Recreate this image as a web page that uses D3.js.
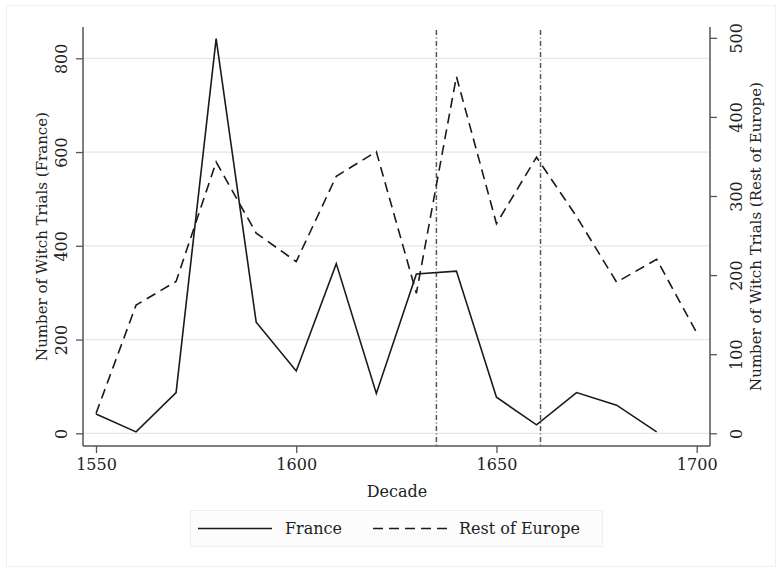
<!DOCTYPE html>
<html>
<head>
<meta charset="utf-8">
<script src="https://cdn.jsdelivr.net/npm/d3@7"></script>
<style>
  html, body { margin: 0; padding: 0; background: #fff; }
  svg { display: block; }
  text { font-family: "DejaVu Serif", "Liberation Serif", serif; fill: #222; }
</style>
</head>
<body>
<svg id="chart" width="781" height="570"></svg>
<script>
// ---- Data ----
const franceYears = [1550, 1560, 1570, 1580, 1590, 1600, 1610, 1620, 1630, 1640, 1650, 1660, 1670, 1680, 1690];
const franceValues = [41, 3, 87, 842, 237, 133, 362, 85, 340, 346, 77, 18, 87, 60, 3];
const europeYears = [1550, 1560, 1570, 1580, 1590, 1600, 1610, 1620, 1630, 1640, 1650, 1660, 1670, 1680, 1690, 1700];
const europeValues = [25, 162, 192, 343, 253, 217, 325, 356, 177, 451, 265, 349, 274, 191, 220, 127];
const xTicks = [1550, 1600, 1650, 1700];
const leftTicks = [0, 200, 400, 600, 800];
const rightTicks = [0, 100, 200, 300, 400, 500];
const refLines = [1635, 1661];
const legendLabels = ["France", "Rest of Europe"];

// ---- Layout ----
const svg = d3.select("#chart");
const plotLeft = 83, plotRight = 710, plotTop = 27, plotBottom = 446;

const x = d3.scaleLinear().domain([1550, 1700]).range([96, 696.7]);
const yL = d3.scaleLinear().domain([0, 800]).range([433.3, 58.3]);
const yR = d3.scaleLinear().domain([0, 500]).range([433.3, 37.8]);

// outer faint frame
svg.append("rect").attr("x", 6.5).attr("y", 5.5).attr("width", 769).attr("height", 561)
  .attr("fill", "#fff").attr("stroke", "#f0f0f0").attr("stroke-width", 1);

// gridlines (left axis)
svg.append("g").selectAll("line").data(leftTicks).join("line")
  .attr("x1", plotLeft).attr("x2", plotRight)
  .attr("y1", d => yL(d)).attr("y2", d => yL(d))
  .attr("stroke", "#e6e6e6").attr("stroke-width", 1.2);

// reference vertical lines
svg.append("g").selectAll("line").data(refLines).join("line")
  .attr("x1", d => x(d)).attr("x2", d => x(d))
  .attr("y1", 30).attr("y2", plotBottom)
  .attr("stroke", "#555").attr("stroke-width", 1.5)
  .attr("stroke-dasharray", "5,2.5,1,2.5");

// axes
const axisColor = "#555";
const gx = svg.append("g").attr("transform", `translate(0,${plotBottom})`)
  .call(d3.axisBottom(x).tickValues(xTicks).tickSize(7).tickPadding(6).tickFormat(d3.format("d")));
const gl = svg.append("g").attr("transform", `translate(${plotLeft},0)`)
  .call(d3.axisLeft(yL).tickValues(leftTicks).tickSize(7).tickFormat(d3.format("d")));
const gr = svg.append("g").attr("transform", `translate(${plotRight},0)`)
  .call(d3.axisRight(yR).tickValues(rightTicks).tickSize(7).tickFormat(d3.format("d")));

[gx, gl, gr].forEach(g => {
  g.select(".domain").remove();
  g.selectAll(".tick line").attr("stroke", axisColor).attr("stroke-width", 1.3);
  g.selectAll(".tick text").attr("font-family", "DejaVu Serif, serif").attr("font-size", 16).attr("fill", "#222");
});
gx.selectAll(".tick text").attr("dy", "0.71em");
gl.selectAll(".tick text")
  .attr("x", null).attr("dy", null)
  .attr("text-anchor", "middle")
  .attr("transform", "translate(-16,0) rotate(-90)");
gr.selectAll(".tick text")
  .attr("x", null).attr("dy", null)
  .attr("text-anchor", "middle")
  .attr("transform", "translate(32,0) rotate(-90)");

// axis lines
svg.append("line").attr("x1", plotLeft).attr("x2", plotRight).attr("y1", plotBottom).attr("y2", plotBottom)
  .attr("stroke", axisColor).attr("stroke-width", 1.5);
svg.append("line").attr("x1", plotLeft).attr("x2", plotLeft).attr("y1", plotTop).attr("y2", plotBottom)
  .attr("stroke", axisColor).attr("stroke-width", 1.5);
svg.append("line").attr("x1", plotRight).attr("x2", plotRight).attr("y1", plotTop).attr("y2", plotBottom)
  .attr("stroke", axisColor).attr("stroke-width", 1.5);

// series
const franceData = franceYears.map((yr, i) => [yr, franceValues[i]]);
const europeData = europeYears.map((yr, i) => [yr, europeValues[i]]);

svg.append("path").datum(europeData)
  .attr("d", d3.line().x(d => x(d[0])).y(d => yR(d[1])))
  .attr("fill", "none").attr("stroke", "#1a1a1a").attr("stroke-width", 1.6)
  .attr("stroke-dasharray", "10,6");

svg.append("path").datum(franceData)
  .attr("d", d3.line().x(d => x(d[0])).y(d => yL(d[1])))
  .attr("fill", "none").attr("stroke", "#1a1a1a").attr("stroke-width", 1.6);

// axis titles
svg.append("text").attr("x", 397).attr("y", 497).attr("text-anchor", "middle")
  .attr("font-size", 16).text("Decade");
svg.append("text").attr("transform", `translate(47,${(plotTop + plotBottom) / 2}) rotate(-90)`)
  .attr("text-anchor", "middle").attr("font-size", 15)
  .text("Number of Witch Trials (France)");
svg.append("text").attr("transform", `translate(761,${(plotTop + plotBottom) / 2}) rotate(-90)`)
  .attr("text-anchor", "middle").attr("font-size", 15)
  .text("Number of Witch Trials (Rest of Europe)");

// legend
const lg = svg.append("g");
lg.append("rect").attr("x", 190.5).attr("y", 510.5).attr("width", 412).attr("height", 36)
  .attr("fill", "#fcfcfc").attr("stroke", "#eeeeee");
const legendItems = [
  { label: legendLabels[0], x1: 198, x2: 272, tx: 285, dash: null },
  { label: legendLabels[1], x1: 373, x2: 447, tx: 459, dash: "10,6" }
];
legendItems.forEach(it => {
  lg.append("line").attr("x1", it.x1).attr("x2", it.x2).attr("y1", 528.5).attr("y2", 528.5)
    .attr("stroke", "#1a1a1a").attr("stroke-width", 1.6)
    .attr("stroke-dasharray", it.dash);
  lg.append("text").attr("x", it.tx).attr("y", 534).attr("font-size", 16).text(it.label);
});
</script>
</body>
</html>
